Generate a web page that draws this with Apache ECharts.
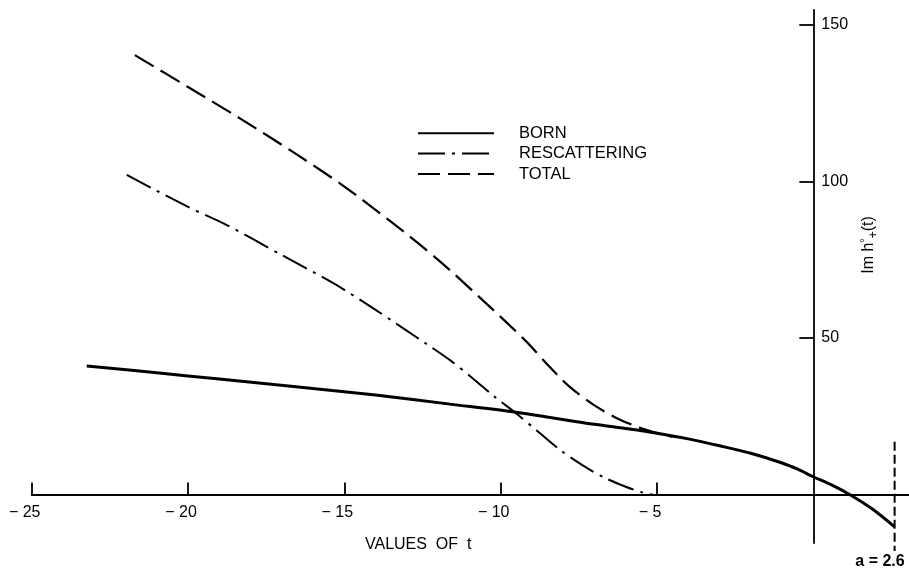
<!DOCTYPE html>
<html>
<head>
<meta charset="utf-8">
<script src="https://cdn.jsdelivr.net/npm/echarts@6/dist/echarts.min.js"></script>
<style>
  html, body { margin: 0; padding: 0; background: #fff; }
  #chart { width: 909px; height: 569px; }
</style>
</head>
<body>
<div id="chart"></div>
<script>
// ---- data ----
const bornT = [-23.24, -21, -19, -16.63, -14, -11.62, -9.5, -7.4, -6, -5, -4, -3, -2, -1, -0.5, 0, 0.6, 1.2, 1.9, 2.6];
const bornV = [41.1, 38.9, 36.9, 34.5, 31.8, 28.9, 26.3, 23.0, 21.1, 19.6, 17.8, 15.6, 13.2, 10.1, 8.1, 5.7, 3.0, -0.2, -4.7, -10.3];

const rescT = [-21.96, -20, -18.76, -17, -15.3, -14, -12.4, -11.6, -10.9, -10.2, -9.5, -8.8, -8.1, -7.4, -6.7, -6.0, -5.5, -5.15];
const rescV = [102.1, 91.9, 86.1, 76.5, 67.2, 59.0, 48.3, 42.8, 37.2, 31.3, 25.9, 20.1, 14.3, 9.5, 5.5, 2.5, 0.8, 0];

const totalT = [-21.7, -20, -18.34, -16.5, -15, -13.5, -12, -10.5, -9.2, -8.5, -7.8, -7.0, -6.2, -5.5, -5, -4.5];
const totalV = [140.4, 130.2, 120.2, 108.5, 98.4, 87.1, 75.0, 61.4, 49.1, 41.5, 34.5, 28.5, 24.0, 21.2, 19.7, 18.4];

const aValue = 2.6;
const aLineV = [16.9, -18];

const xTicks = [-25, -20, -15, -10, -5];
const yTicks = [50, 100, 150];
const seriesNames = ['BORN', 'RESCATTERING', 'TOTAL'];

// axis ranges
const xMin = -25, xMax = 3.06;
const yMin = -15.46, yMax = 154.8;

const zip = (a, b) => a.map((v, i) => [v, b[i]]);

const W = 909, H = 569;
const G = { left: 31.7, right: 0, top: 10, bottom: 26 };
const gw = W - G.left - G.right, gh = H - G.top - G.bottom;
// shift the axes so they cross at (0, 0), as in the reference
const xAxisOffset = -((0 - yMin) / (yMax - yMin)) * gh;
const yAxisOffset = -((xMax - 0) / (xMax - xMin)) * gw;

const FONT = '"Liberation Sans", Arial, sans-serif';
const chart = echarts.init(document.getElementById('chart'), null, { renderer: 'canvas' });

chart.setOption({
  animation: false,
  backgroundColor: '#fff',
  textStyle: { fontFamily: FONT, color: '#000' },
  grid: { left: G.left, right: G.right, top: G.top, bottom: G.bottom, containLabel: false, outerBoundsMode: 'none' },
  legend: {
    orient: 'vertical',
    left: 412,
    top: 119.7,
    itemWidth: 76,
    itemHeight: 14,
    itemGap: 3.4,
    itemStyle: { opacity: 0 },
    textStyle: { fontSize: 16.5, color: '#000', fontFamily: FONT, padding: [0, 0, 0, 20] },
    data: seriesNames
  },
  xAxis: {
    type: 'value',
    min: xMin,
    max: xMax,
    position: 'bottom',
    offset: xAxisOffset,
    axisLine: { onZero: false, lineStyle: { color: '#000', width: 1.8 } },
    axisTick: { inside: true, length: 12, customValues: xTicks, lineStyle: { color: '#000', width: 1.8 } },
    axisLabel: {
      customValues: xTicks,
      formatter: v => '\u2212 ' + Math.abs(v),
      padding: [0, 14, 0, 0],
      fontSize: 16,
      color: '#000',
      fontFamily: FONT,
      margin: 10
    },
    splitLine: { show: false }
  },
  yAxis: {
    type: 'value',
    position: 'right',
    offset: yAxisOffset,
    min: yMin,
    max: yMax,
    axisLine: { onZero: false, lineStyle: { color: '#000', width: 1.8 } },
    axisTick: { inside: true, length: 14, customValues: yTicks, lineStyle: { color: '#000', width: 1.8 } },
    axisLabel: { customValues: yTicks, fontSize: 16, color: '#000', fontFamily: FONT, margin: 8 },
    splitLine: { show: false }
  },
  series: [
    {
      name: 'BORN', type: 'line', data: zip(bornT, bornV), smooth: 0.3,
      symbol: 'none', lineStyle: { color: '#000', width: 3, type: 'solid' }, itemStyle: { color: '#000' }
    },
    {
      name: 'RESCATTERING', type: 'line', data: zip(rescT, rescV), smooth: 0.3,
      symbol: 'none', lineStyle: { color: '#000', width: 2, type: [27, 7, 3, 7] }, itemStyle: { color: '#000' }
    },
    {
      name: 'TOTAL', type: 'line', data: zip(totalT, totalV), smooth: 0.3,
      symbol: 'none', lineStyle: { color: '#000', width: 2.2, type: [22, 8] }, itemStyle: { color: '#000' }
    },
    {
      name: 'a', type: 'line', data: aLineV.map(v => [aValue, v]), clip: false,
      symbol: 'none', lineStyle: { color: '#000', width: 2, type: [9, 4] }
    }
  ],
  graphic: [
    {
      type: 'text', left: 365, top: 537,
      style: { text: 'VALUES  OF  t', font: '16px ' + FONT, fill: '#000' }
    },
    {
      type: 'text', x: 869, y: 245, rotation: Math.PI / 2,
      style: {
        text: '{n|Im h}{sup|°}{sub|+}{n|(t)}',
        align: 'center', verticalAlign: 'middle', fill: '#000',
        rich: {
          n: { fontSize: 16, fontFamily: FONT, fill: '#000' },
          sup: { fontSize: 11, fontFamily: FONT, fill: '#000', padding: [0, 0, 9, 0] },
          sub: { fontSize: 12, fontFamily: FONT, fill: '#000', padding: [9, 0, 0, 0] }
        }
      }
    },
    {
      type: 'text', x: 880, y: 562,
      style: { text: 'a = 2.6', font: 'bold 16px ' + FONT, fill: '#000', align: 'center', verticalAlign: 'middle' }
    }
  ]
});
</script>
</body>
</html>
